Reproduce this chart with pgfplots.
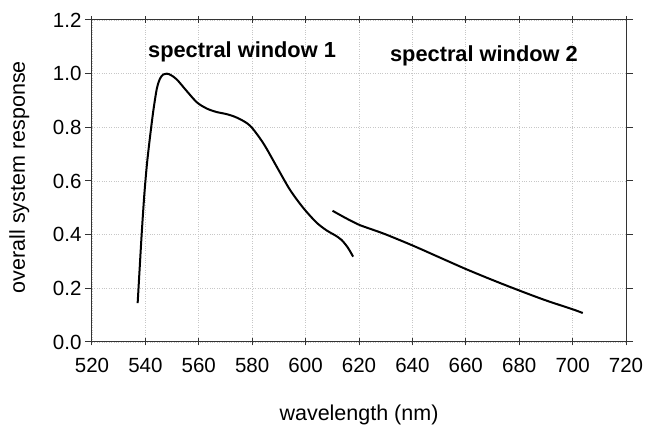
\documentclass[border=0pt]{standalone}
\usepackage{fontspec}
\setmainfont{Liberation Sans}
\usepackage{pgfplots}
\pgfplotsset{compat=1.18}

\begin{document}
\begin{tikzpicture}
\begin{axis}[
  scale only axis,width=534pt,height=322pt,
  xmin=520,xmax=720,ymin=0,ymax=1.2,
  xtick={520,540,...,720},ytick={0,0.2,...,1.2},
  xtick align=center,ytick align=outside,major tick length=7pt,
  grid=major,grid style={dotted,black!22,line width=0.8pt},
  axis line style={black!80,line width=1pt},
  tick style={black!80,line width=1pt},
  tick label style={font=\fontsize{20.5}{22}\selectfont},
  xticklabel style={yshift=-9pt},
  yticklabel style={/pgf/number format/.cd,fixed,fixed zerofill,precision=1},
  /pgf/number format/assume math mode=true,
  xlabel={wavelength (nm)},ylabel={overall system response},
  label style={font=\fontsize{21.5}{23}\selectfont},
  xlabel style={at={(axis description cs:0.5,0)},anchor=base,yshift=-78pt},
  ylabel style={at={(axis description cs:-0.136,0.512)},anchor=center},
  clip=false]
  % spectral window 1
  \addplot[black,line width=2pt,smooth] coordinates {
    (537.1,0.145)(538.0,0.30)(538.7,0.417)(539.6,0.55)(540.6,0.665)
    (541.8,0.77)(543.0,0.864)(544.3,0.945)(545.5,0.982)(546.7,0.997)
    (548.0,1.0)(549.5,0.995)(551.8,0.978)(555.5,0.935)(559.3,0.893)
    (563.0,0.870)(566.7,0.857)(570.5,0.849)(574.5,0.835)(579.2,0.806)
    (584.2,0.740)(589.2,0.653)(594.1,0.568)(599.1,0.500)(604.1,0.445)
    (608.0,0.415)(611.0,0.398)(613.5,0.380)(615.8,0.352)(617.8,0.318)};
  % spectral window 2
  \addplot[black,line width=2pt,smooth] coordinates {
    (610.1,0.489)(615.0,0.462)(620.0,0.437)(625.0,0.419)(630.0,0.401)
    (640.0,0.360)(650.0,0.316)(660.0,0.272)(670.0,0.231)(680.0,0.192)
    (690.0,0.155)(700.0,0.122)(703.8,0.108)};
  \node[anchor=base,font=\fontsize{21.8}{24}\selectfont\bfseries] at (axis cs:576.2,1.059) {spectral window 1};
  \node[anchor=base,font=\fontsize{21.8}{24}\selectfont\bfseries] at (axis cs:666.8,1.046) {spectral window 2};
\end{axis}
\pgfresetboundingbox
\useasboundingbox (-92pt,-83pt) rectangle (553pt,342pt);
\end{tikzpicture}
\end{document}
